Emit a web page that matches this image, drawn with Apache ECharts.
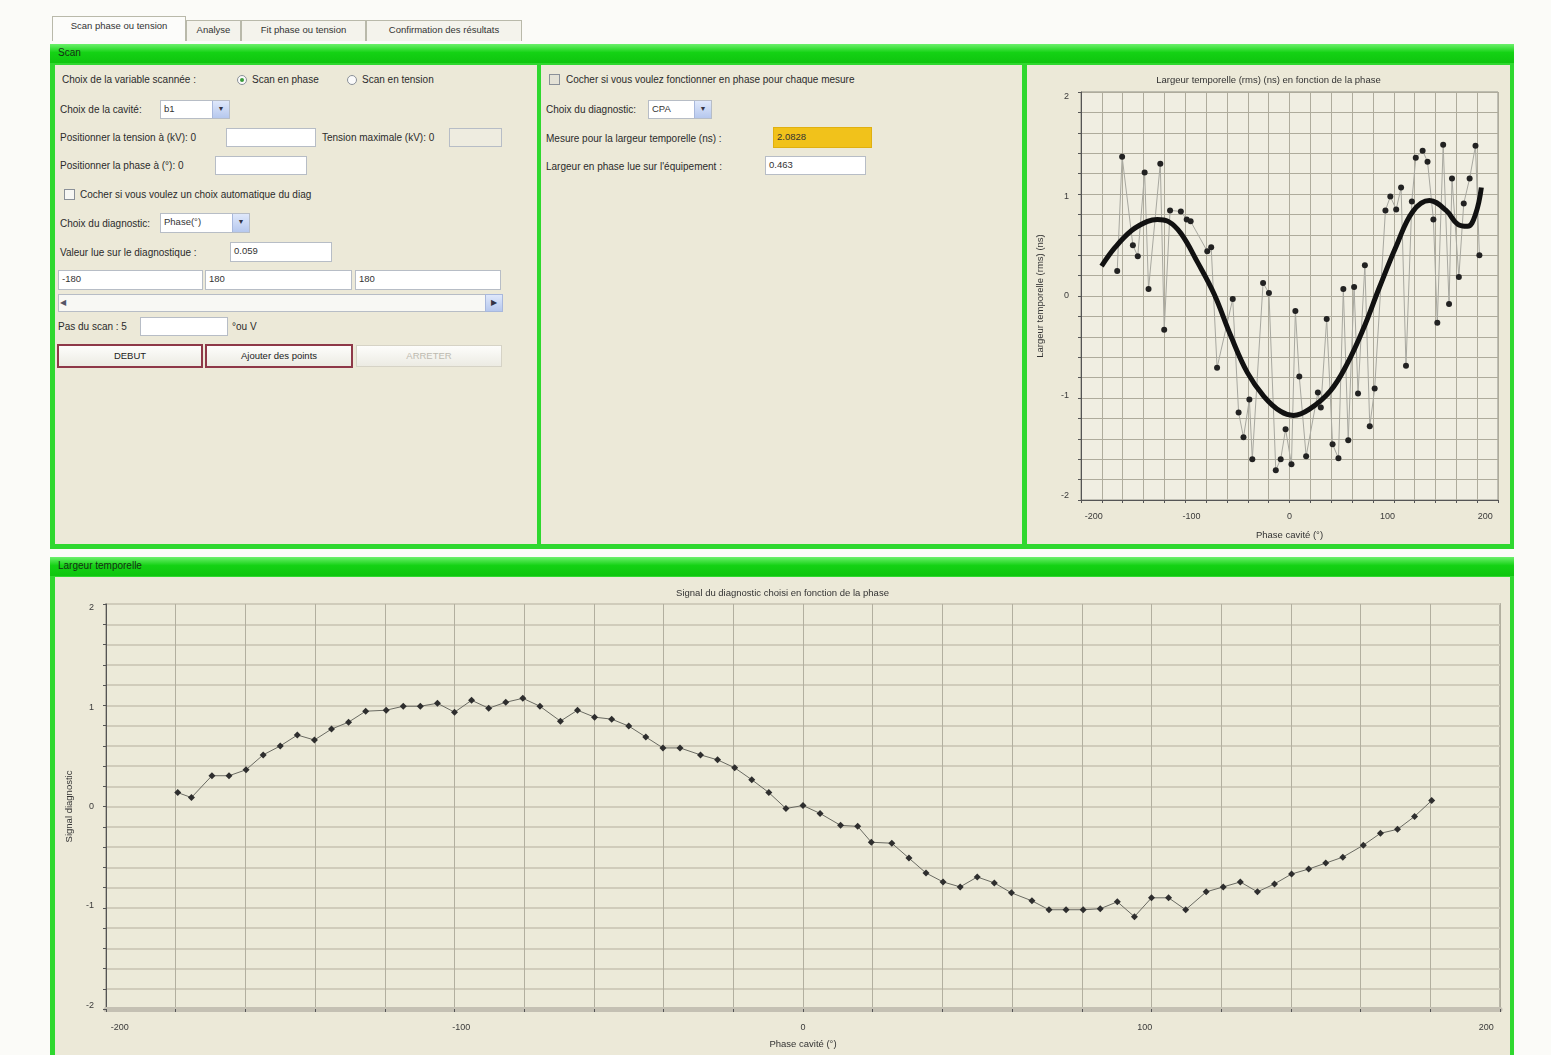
<!DOCTYPE html>
<html><head><meta charset="utf-8">
<script src="https://cdn.jsdelivr.net/npm/echarts@6/dist/echarts.min.js"></script>
<style>
html,body{margin:0;padding:0;width:1551px;height:1055px;overflow:hidden;background:#fbfbf8;font-family:"Liberation Sans",Arial,sans-serif;font-size:10px;color:#2b2b2b;}
.a{position:absolute;white-space:nowrap;line-height:12px;}
.tab{position:absolute;border:1px solid #b9b9aa;border-bottom:none;background:#f4f3ec;font-size:9.5px;line-height:18px;text-align:center;color:#333;}
.grp{position:absolute;background:#2fd82f;}
.bar{position:absolute;left:0;right:0;top:0;height:19px;background:linear-gradient(#6cf06c,#14d214 45%,#0fc50f);}
.bar span{position:absolute;left:8px;top:3px;font-size:10px;color:#143014;line-height:12px;}
.pan{position:absolute;background:#ece9d8;}
.inp{position:absolute;background:#fff;border:1px solid #b7bdc6;box-sizing:border-box;font-size:9.5px;line-height:16px;padding-left:3px;color:#333;}
.cmb{position:absolute;background:#fff;border:1px solid #b7bdc6;box-sizing:border-box;font-size:9.5px;line-height:16px;padding-left:3px;color:#333;}
.cmb i{position:absolute;right:0;top:0;bottom:0;width:16px;background:linear-gradient(#dfe8fb,#b6c8ee);border-left:1px solid #a8b8dc;font-style:normal;font-size:7px;text-align:center;color:#334;}
.rad{position:absolute;width:10px;height:10px;border-radius:6px;border:1px solid #8a9098;background:#fafafa;box-sizing:border-box;}
.chk{position:absolute;width:11px;height:11px;border:1px solid #8a9098;background:#f7f7f4;box-sizing:border-box;}
.btn{position:absolute;box-sizing:border-box;background:linear-gradient(#fdfdfb,#ecebe3);text-align:center;font-size:9.5px;line-height:20px;color:#222;}
</style></head>
<body>
<!-- tabs -->
<div class="tab" style="left:52px;top:16px;width:132px;height:24px;background:#fcfcfa;">Scan phase ou tension</div>
<div class="tab" style="left:186px;top:20px;width:53px;height:20px;">Analyse</div>
<div class="tab" style="left:241px;top:20px;width:123px;height:20px;">Fit phase ou tension</div>
<div class="tab" style="left:366px;top:20px;width:154px;height:20px;">Confirmation des résultats</div>

<!-- top group -->
<div class="grp" style="left:50px;top:44px;width:1464px;height:505px;">
  <div class="bar"><span>Scan</span></div>
  <div class="pan" style="left:5px;top:21px;width:482px;height:479px;"></div>
  <div class="pan" style="left:491px;top:21px;width:481px;height:479px;"></div>
  <div class="pan" style="left:977px;top:21px;width:483px;height:479px;"></div>
</div>

<!-- bottom group -->
<div class="grp" style="left:50px;top:557px;width:1464px;height:498px;">
  <div class="bar"><span>Largeur temporelle</span></div>
  <div class="pan" style="left:5px;top:20px;width:1455px;height:478px;"></div>
</div>

<!-- panel 1 widgets -->
<div class="a" style="left:62px;top:74px;">Choix de la variable scannée :</div>
<div class="rad" style="left:237px;top:75px;"><div style="position:absolute;left:2px;top:2px;width:4px;height:4px;border-radius:2px;background:#3a9a3a;"></div></div>
<div class="a" style="left:252px;top:74px;">Scan en phase</div>
<div class="rad" style="left:347px;top:75px;"></div>
<div class="a" style="left:362px;top:74px;">Scan en tension</div>

<div class="a" style="left:60px;top:104px;">Choix de la cavité:</div>
<div class="cmb" style="left:160px;top:100px;width:70px;height:19px;">b1<i>▼</i></div>

<div class="a" style="left:60px;top:132px;">Positionner la tension à (kV): 0</div>
<div class="inp" style="left:226px;top:128px;width:90px;height:19px;"></div>
<div class="a" style="left:322px;top:132px;">Tension maximale (kV): 0</div>
<div class="inp" style="left:449px;top:128px;width:53px;height:19px;background:#eeece0;"></div>

<div class="a" style="left:60px;top:160px;">Positionner la phase à (°): 0</div>
<div class="inp" style="left:215px;top:156px;width:92px;height:19px;"></div>

<div class="chk" style="left:64px;top:189px;"></div>
<div class="a" style="left:80px;top:189px;">Cocher si vous voulez un choix automatique du diag</div>

<div class="a" style="left:60px;top:218px;">Choix du diagnostic:</div>
<div class="cmb" style="left:160px;top:213px;width:90px;height:20px;">Phase(°)<i>▼</i></div>

<div class="a" style="left:60px;top:247px;">Valeur lue sur le diagnostique :</div>
<div class="inp" style="left:230px;top:242px;width:102px;height:20px;">0.059</div>

<div class="inp" style="left:58px;top:270px;width:145px;height:20px;">-180</div>
<div class="inp" style="left:205px;top:270px;width:147px;height:20px;">180</div>
<div class="inp" style="left:355px;top:270px;width:146px;height:20px;">180</div>

<div class="inp" style="left:58px;top:294px;width:445px;height:18px;background:#f8f8f4;"></div>
<div class="a" style="left:60px;top:297px;font-size:8px;color:#556;">◀</div>
<div class="a" style="left:485px;top:294px;width:18px;height:18px;background:linear-gradient(#dfe8fb,#b6c8ee);border:1px solid #a8b8dc;box-sizing:border-box;font-size:8px;text-align:center;line-height:16px;color:#334;">▶</div>

<div class="a" style="left:58px;top:321px;">Pas du scan : 5</div>
<div class="inp" style="left:140px;top:317px;width:88px;height:19px;"></div>
<div class="a" style="left:232px;top:321px;">°ou V</div>

<div class="btn" style="left:57px;top:344px;width:146px;height:24px;border:2px solid #8e3848;">DEBUT</div>
<div class="btn" style="left:205px;top:344px;width:148px;height:24px;border:2px solid #8e3848;">Ajouter des points</div>
<div class="btn" style="left:356px;top:345px;width:146px;height:22px;border:1px solid #d6d3c6;color:#bdbab0;">ARRETER</div>

<!-- panel 2 widgets -->
<div class="chk" style="left:549px;top:74px;background:#e4e2d6;"></div>
<div class="a" style="left:566px;top:74px;">Cocher si vous voulez fonctionner en phase pour chaque mesure</div>
<div class="a" style="left:546px;top:104px;">Choix du diagnostic:</div>
<div class="cmb" style="left:648px;top:100px;width:64px;height:19px;">CPA<i>▼</i></div>
<div class="a" style="left:546px;top:133px;">Mesure pour la largeur temporelle (ns) :</div>
<div class="inp" style="left:773px;top:127px;width:99px;height:21px;background:#f1c21b;border-color:#e0b010;line-height:18px;">2.0828</div>
<div class="a" style="left:546px;top:161px;">Largeur en phase lue sur l'équipement :</div>
<div class="inp" style="left:765px;top:156px;width:101px;height:19px;">0.463</div>

<div id="c1" style="position:absolute;left:1027px;top:65px;width:483px;height:480px;"></div>
<div id="c2" style="position:absolute;left:55px;top:577px;width:1455px;height:478px;"></div>

<script>
// ---- bottom chart: diagnostic signal vs phase ----
var signalPhase = [-183,-179,-173,-168,-163,-158,-153,-148,-143,-138,-133,-128,-122,-117,-112,-107,-102,-97,-92,-87,-82,-77,-71,-66,-61,-56,-51,-46,-41,-36,-30,-25,-20,-15,-10,-5,0,5,11,16,20,26,31,36,41,46,51,56,61,67,72,77,82,87,92,97,102,107,112,118,123,128,133,138,143,148,153,158,164,169,174,179,184];
var signalValue = [0.14,0.09,0.31,0.31,0.37,0.52,0.61,0.72,0.67,0.78,0.85,0.96,0.97,1.01,1.01,1.04,0.95,1.07,0.99,1.05,1.09,1.01,0.86,0.97,0.90,0.88,0.81,0.70,0.59,0.59,0.52,0.47,0.39,0.27,0.14,-0.02,0.01,-0.07,-0.19,-0.20,-0.36,-0.37,-0.52,-0.67,-0.76,-0.81,-0.71,-0.77,-0.87,-0.95,-1.04,-1.04,-1.04,-1.03,-0.96,-1.11,-0.92,-0.92,-1.04,-0.86,-0.81,-0.76,-0.86,-0.78,-0.68,-0.63,-0.57,-0.51,-0.39,-0.27,-0.23,-0.10,0.06];

// ---- top-right chart: measured temporal width vs phase ----
var widthPhase = [-176,-171,-160,-155,-148,-144,-132,-128,-122,-111,-105,-101,-84,-80,-74,-58,-52,-47,-41,-38,-27,-21,-14,-9,-4,2,6,10,17,29,32,38,44,50,55,60,66,70,77,82,87,98,103,109,114,119,125,129,136,141,147,151,157,163,166,173,178,184,190,194];
var widthValue = [0.25,1.40,0.51,0.40,1.24,0.07,1.33,-0.34,0.86,0.85,0.77,0.75,0.45,0.49,-0.72,-0.03,-1.17,-1.42,-1.04,-1.64,0.13,0.03,-1.75,-1.64,-1.34,-1.69,-0.15,-0.81,-1.61,-0.97,-1.12,-0.23,-1.49,-1.63,0.07,-1.45,0.09,-0.98,0.31,-1.31,-0.93,0.86,1.00,0.87,1.09,-0.70,0.95,1.39,1.46,1.35,0.77,-0.27,1.52,-0.08,1.18,0.19,0.93,1.18,1.51,0.41];

// ---- fitted curve through the measured widths ----
var fitPhase = [-192,-178,-161,-145,-135,-124,-111,-94,-77,-60,-43,-26,-9,4,20,42,59,75,92,109,126,143,160,172,182,190,196];
var fitValue = [0.30,0.49,0.66,0.75,0.77,0.75,0.63,0.34,0.02,-0.40,-0.77,-1.01,-1.16,-1.20,-1.14,-0.95,-0.68,-0.34,0.09,0.50,0.85,0.96,0.86,0.72,0.70,0.82,1.09];

var xTickLabels = [-200,-100,0,100,200];
var yTickLabels = [-2,-1,0,1,2];

function zip(a,b){var r=[];for(var i=0;i<a.length;i++)r.push([a[i],b[i]]);return r;}

var FONT = 'Liberation Sans';
function axisX(min, name, gap, gridColor){
  return {type:'value', min:-min, max:min, interval:min/10,
    name:name, nameLocation:'middle', nameGap:gap,
    nameTextStyle:{fontFamily:FONT,fontSize:9.5,color:'#333'},
    axisLine:{show:true,onZero:false,lineStyle:{color:'#555',width:1}},
    axisTick:{show:true,length:3,lineStyle:{color:'#555'}},
    axisLabel:{customValues:xTickLabels,fontFamily:FONT,fontSize:9,color:'#3a3a3a',margin:12},
    splitLine:{show:true,lineStyle:{color:gridColor,width:1}}};
}
function axisY(min, name, gap, gridColor, gridWidth){
  return {type:'value', min:-min, max:min, interval:min/10,
    name:name, nameLocation:'middle', nameGap:gap,
    nameTextStyle:{fontFamily:FONT,fontSize:9.5,color:'#333'},
    axisLine:{show:true,onZero:false,lineStyle:{color:'#555',width:1}},
    axisTick:{show:true,length:3,lineStyle:{color:'#555'}},
    axisLabel:{customValues:yTickLabels,fontFamily:FONT,fontSize:9,color:'#3a3a3a',margin:12},
    splitLine:{show:true,lineStyle:{color:gridColor,width:gridWidth}}};
}

var c1 = echarts.init(document.getElementById('c1'), null, {renderer:'canvas'});
c1.setOption({
  animation:false,
  title:{text:'Largeur temporelle (rms) (ns) en fonction de la phase',left:'center',top:5,
    textStyle:{fontFamily:FONT,fontSize:9.5,fontWeight:'normal',color:'#333'}},
  grid:{left:51,right:12,top:27,bottom:45,show:true,backgroundColor:'#f0eee2',borderColor:'#8f8f86',borderWidth:1},
  xAxis:axisX(213,'Phase cavité (°)',30,'#aeab9c'),
  yAxis:axisY(2.05,'Largeur temporelle (rms) (ns)',36,'#aeab9c',1),
  series:[
    {type:'line',data:zip(widthPhase,widthValue),symbol:'circle',symbolSize:6,
      lineStyle:{color:'#a8a8a0',width:1},itemStyle:{color:'#222'},z:2},
    {type:'line',data:zip(fitPhase,fitValue),smooth:0.4,symbol:'none',
      lineStyle:{color:'#111',width:5},z:3}
  ]
});

var c2 = echarts.init(document.getElementById('c2'), null, {renderer:'canvas'});
var xb = axisX(204,'Phase cavité (°)',30,'#b2af9f');
xb.axisLine.lineStyle = {color:'#c4c0b3',width:5};
xb.axisLabel.margin = 14;
c2.setOption({
  animation:false,
  title:{text:'Signal du diagnostic choisi en fonction de la phase',left:'center',top:6,
    textStyle:{fontFamily:FONT,fontSize:9.5,fontWeight:'normal',color:'#333'}},
  grid:{left:51,right:10,top:27,bottom:46,show:true,backgroundColor:'#ecead9',borderColor:'#b9b6a8',borderWidth:2},
  xAxis:xb,
  yAxis:axisY(2.04,'Signal diagnostic',32,'#d0ccbb',2),
  series:[
    {type:'line',data:zip(signalPhase,signalValue),symbol:'diamond',symbolSize:7,
      lineStyle:{color:'#6a6a62',width:1},itemStyle:{color:'#2e2e2e'}}
  ]
});
</script>
</body></html>
